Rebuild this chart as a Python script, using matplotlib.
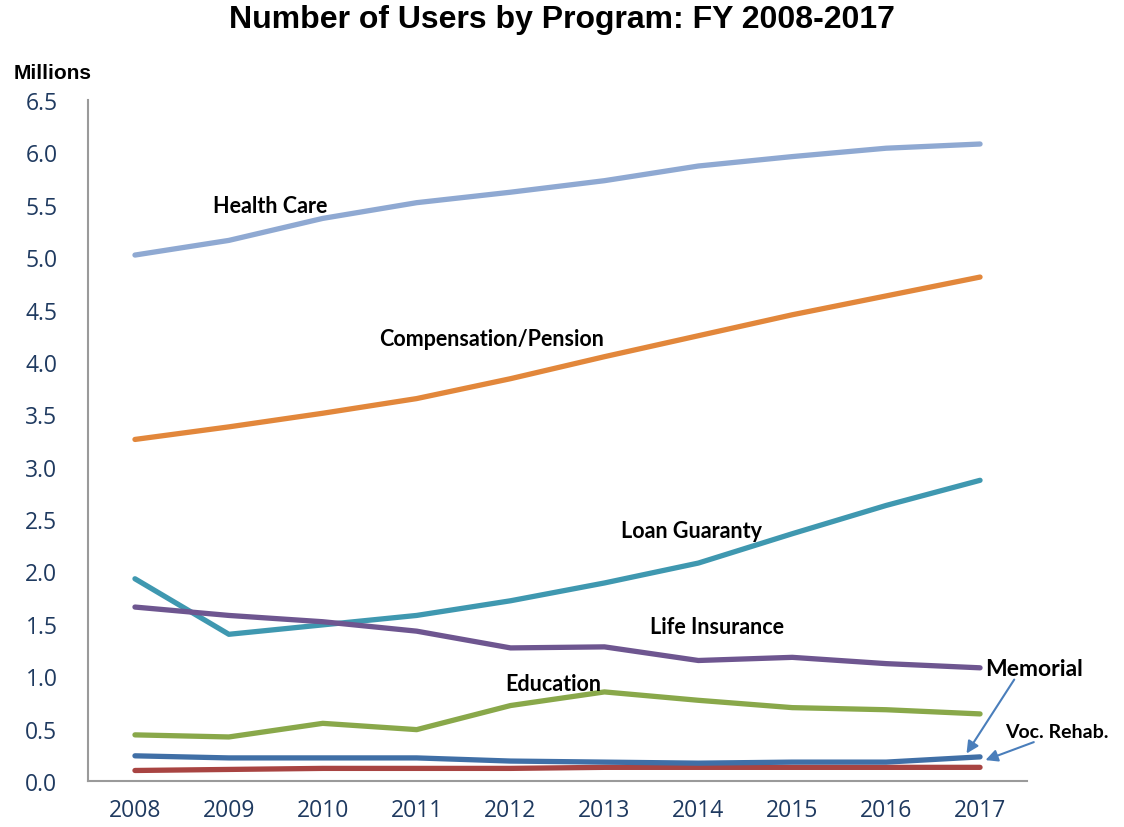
import numpy as np
import matplotlib.pyplot as plt

years = ['2008', '2009', '2010', '2011', '2012', '2013', '2014', '2015', '2016', '2017']

health_care = [5.02, 5.16, 5.37, 5.52, 5.62, 5.73, 5.87, 5.96, 6.04, 6.08]
compensation = [3.26, 3.38, 3.51, 3.65, 3.84, 4.05, 4.25, 4.45, 4.63, 4.81]
loan_guaranty = [1.93, 1.40, 1.49, 1.58, 1.72, 1.89, 2.08, 2.36, 2.63, 2.87]
life_insurance = [1.66, 1.58, 1.52, 1.43, 1.27, 1.28, 1.15, 1.18, 1.12, 1.08]
education = [0.44, 0.42, 0.55, 0.49, 0.72, 0.85, 0.77, 0.70, 0.68, 0.64]
memorial = [0.24, 0.22, 0.22, 0.22, 0.19, 0.18, 0.17, 0.18, 0.18, 0.23]
voc_rehab = [0.10, 0.11, 0.12, 0.12, 0.12, 0.13, 0.13, 0.13, 0.13, 0.13]

fig = plt.figure(figsize=(11.24, 8.28), dpi=100)
ax = fig.add_axes([0.0783, 0.0556, 0.8354, 0.8224])

x = np.arange(len(years))
lw = 3.8
ax.plot(x, health_care, color='#8FA9D2', lw=lw, solid_capstyle='round')
ax.plot(x, compensation, color='#E2873B', lw=lw, solid_capstyle='round')
ax.plot(x, loan_guaranty, color='#3F98B0', lw=lw, solid_capstyle='round')
ax.plot(x, life_insurance, color='#6E5690', lw=lw, solid_capstyle='round')
ax.plot(x, education, color='#89A84A', lw=lw, solid_capstyle='round')
ax.plot(x, voc_rehab, color='#A84442', lw=lw, solid_capstyle='round')
ax.plot(x, memorial, color='#406FA6', lw=lw, solid_capstyle='round')

ax.set_xlim(-0.5, 9.5)
ax.set_ylim(0, 6.5)
ax.set_xticks(x)
ax.set_xticklabels(years)
ax.set_yticks(np.arange(0, 6.51, 0.5))
ax.set_yticklabels(['%.1f' % v for v in np.arange(0, 6.51, 0.5)])
ax.tick_params(length=0, labelsize=16.5, labelcolor='#1F3A60')
ax.tick_params(axis='x', pad=12)
ax.tick_params(axis='y', pad=22)
for lab in ax.get_xticklabels() + ax.get_yticklabels():
    lab.set_fontfamily('Open Sans')
for s in ['top', 'right']:
    ax.spines[s].set_visible(False)
for s in ['left', 'bottom']:
    ax.spines[s].set_color('#9A9A9A')
    ax.spines[s].set_linewidth(1.5)

fig.text(0.5, 0.976, 'Number of Users by Program: FY 2008-2017', ha='center', va='center',
         fontsize=23, fontweight='bold', family='Liberation Sans')
fig.text(0.012, 0.911, 'Millions', ha='left', va='center', fontsize=15,
         fontweight='bold', family='Liberation Sans')

lbl = dict(fontsize=15.5, fontweight='bold', family='Lato', ha='center', va='center')
ax.text(1.44, 5.49, 'Health Care', **lbl)
ax.text(3.80, 4.22, 'Compensation/Pension', **lbl)
ax.text(5.93, 2.39, 'Loan Guaranty', **lbl)
ax.text(6.20, 1.47, 'Life Insurance', **lbl)
ax.text(4.46, 0.93, 'Education', **lbl)
ax.text(9.57, 1.07, 'Memorial', clip_on=False, fontsize=16.5, fontweight='bold',
        family='Lato', ha='center', va='center')
ax.text(9.82, 0.47, 'Voc. Rehab.', clip_on=False, fontsize=14, fontweight='bold',
        family='Lato', ha='center', va='center')

arrow = dict(arrowstyle='-|>', color='#4A7EBB', lw=1.5, mutation_scale=18)
ax.annotate('', xy=(8.84, 0.24), xytext=(9.38, 0.99), arrowprops=arrow, annotation_clip=False)
ax.annotate('', xy=(9.03, 0.19), xytext=(9.60, 0.38), arrowprops=arrow, annotation_clip=False)

fig.savefig('out.png', dpi=100)
